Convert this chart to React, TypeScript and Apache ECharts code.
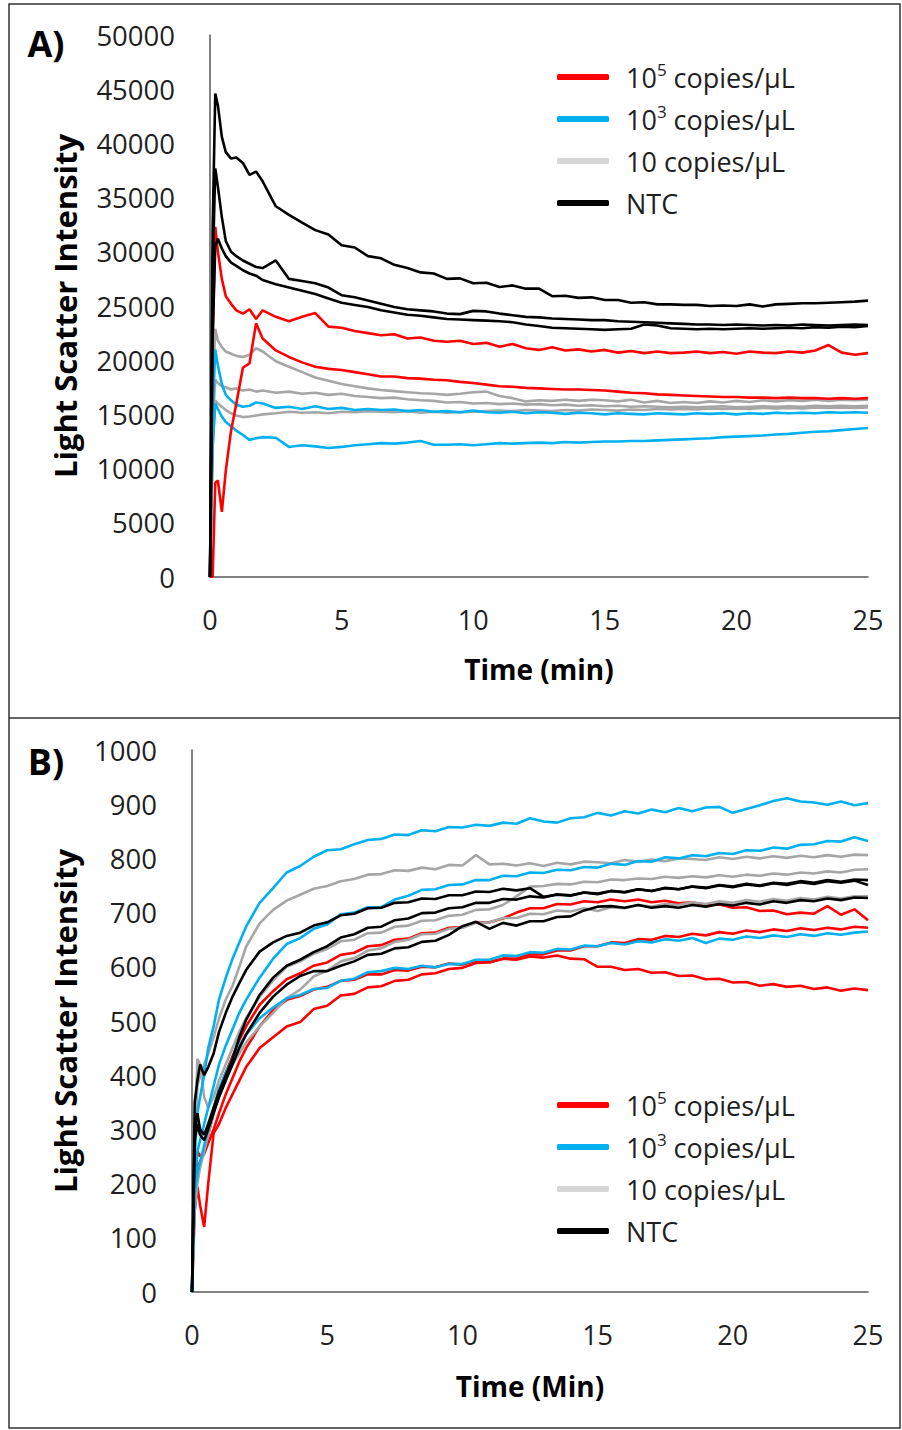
import React, { useEffect, useRef } from "react";
import * as echarts from "echarts";

// ---------- shared time grid (min) ----------
const TIME = [
  0, 0.1, 0.2, 0.3, 0.45, 0.6, 0.8, 1.0, 1.25, 1.5,
  1.75, 2.0, 2.5, 3.0, 3.5, 4.0, 4.5, 5.0, 5.5, 6.0,
  6.5, 7.0, 7.5, 8.0, 8.5, 9.0, 9.5, 10.0, 10.5, 11.0,
  11.5, 12.0, 12.5, 13.0, 13.5, 14.0, 14.5, 15.0, 15.5, 16.0,
  16.5, 17.0, 17.5, 18.0, 18.5, 19.0, 19.5, 20.0, 20.5, 21.0,
  21.5, 22.0, 22.5, 23.0, 23.5, 24.0, 24.5, 25.0,
];

const X_TICKS = [0, 5, 10, 15, 20, 25];
const Y_TICKS_A = [0, 5000, 10000, 15000, 20000, 25000, 30000, 35000, 40000, 45000, 50000];
const Y_TICKS_B = [0, 100, 200, 300, 400, 500, 600, 700, 800, 900, 1000];

const GROUPS = ["10^5 copies/µL", "10^3 copies/µL", "10 copies/µL", "NTC"];

// ---------- Panel A ----------
const A_NTC_1 = [
  0, 32000, 44600, 43500, 40600, 39200, 38600, 38700, 38200, 37100,
  37400, 36500, 34200, 33400, 32700, 32000, 31600, 30600, 30400, 29600,
  29400, 28800, 28500, 28100, 28000, 27500, 27550, 27100, 27150, 26750,
  26900, 26600, 26600, 25900, 25950, 25750, 25800, 25550, 25550, 25300,
  25350, 25150, 25150, 25100, 25100, 25000, 25050, 25000, 25150, 24950,
  25150, 25200, 25250, 25250, 25300, 25350, 25400, 25500,
];
const A_NTC_2 = [
  0, 28000, 37700, 36000, 33200, 31000, 30000, 29600, 29200, 28900,
  28600, 28500, 29200, 27500, 27300, 27100, 26700, 26000, 25800, 25500,
  25200, 24900, 24700, 24600, 24500, 24300, 24250, 24550, 24500, 24300,
  24150, 24000, 23950, 23850, 23800, 23750, 23700, 23700, 23600, 23550,
  23500, 23450, 23400, 23350, 23300, 23300, 23250, 23300, 23250, 23200,
  23250, 23200, 23300, 23250, 23200, 23250, 23300, 23250,
];
const A_NTC_3 = [
  0, 22000, 30500, 31200, 30300, 29600, 29000, 28700, 28300, 28000,
  27800, 27400, 27000, 26700, 26400, 26100, 25700, 25300, 25100, 24900,
  24600, 24400, 24200, 24100, 23950, 23800, 23750, 23700, 23650, 23600,
  23500, 23300, 23150, 23000, 22950, 22900, 22850, 22800, 22850, 22900,
  23300, 23200, 22950, 22900, 22850, 22900, 22850, 22900, 22950, 22900,
  22950, 23000, 22950, 23050, 23000, 23100, 23050, 23150,
];
const A_R5_1 = [
  0, 22000, 32300, 30000, 27500, 25900, 25200, 24600, 24300, 24700,
  23800, 24600, 24000, 23600, 24000, 24350, 23100, 23000, 22700, 22500,
  22300, 22400, 22000, 22100, 21800, 21700, 21800, 21500, 21600, 21250,
  21500, 21100, 20950, 21200, 20900, 21000, 20800, 20950, 20700, 20850,
  20650, 20800, 20650, 20700, 20800, 20650, 20750, 20600, 20800, 20700,
  20650, 20800, 20700, 20900, 21400, 20700, 20500, 20650,
];
const A_R5_2 = [
  0, 0, 8700, 8900, 6000, 9800, 13500, 16000, 19300, 19700,
  23400, 22000, 20900, 20300, 19800, 19400, 19200, 19100, 18900, 18700,
  18500, 18500, 18350, 18300, 18200, 18150, 18000, 17900, 17750, 17600,
  17550, 17450, 17400, 17350, 17300, 17300, 17250, 17200, 17100, 17000,
  16950, 16850, 16800, 16750, 16700, 16650, 16600, 16600, 16550, 16550,
  16500, 16550, 16500, 16500, 16450, 16500, 16450, 16500,
];
const A_R3_1 = [
  0, 15000, 21000, 19500, 17800, 16800, 16300, 15900, 15700, 15800,
  16100, 16000, 15600, 15700, 15500, 15750, 15500, 15600, 15400, 15500,
  15400, 15450, 15300, 15400, 15250, 15300, 15200, 15350, 15200, 15150,
  15250, 15100, 15200, 15150, 15050, 15150, 15100, 15000, 15100, 15050,
  15000, 15100, 15050, 15000, 15100, 15050, 15100, 15000, 15100, 15050,
  15150, 15100, 15150, 15100, 15200, 15150, 15200, 15150,
];
const A_R3_2 = [
  0, 12000, 16000, 15500, 14800, 14300, 13900, 13500, 13100, 12650,
  12800, 12900, 12850, 12000, 12150, 12050, 11900, 12000, 12150, 12250,
  12350, 12300, 12400, 12550, 12200, 12200, 12250, 12150, 12250, 12350,
  12300, 12350, 12400, 12350, 12450, 12400, 12450, 12500, 12500, 12550,
  12550, 12600, 12650, 12700, 12750, 12800, 12900, 12950, 13000, 13050,
  13150, 13200, 13300, 13400, 13450, 13550, 13650, 13750,
];
const A_R1_1 = [
  0, 17000, 22900, 21800, 21200, 20800, 20600, 20400, 20300, 20500,
  21100, 20800, 19900, 19400, 18900, 18400, 18100, 17800, 17600, 17400,
  17250, 17150, 17050, 16950, 16900, 16800, 16900, 17050, 17100, 16700,
  16500, 16200, 16300, 16250, 16350, 16250, 16350, 16300, 16200, 16350,
  16100, 16250, 16050, 16150, 16050, 16200, 16100, 16250, 16150, 16300,
  16200, 16300, 16250, 16350, 16250, 16350, 16300, 16350,
];
const A_R1_2 = [
  0, 14000, 18200, 17900, 17600, 17500, 17300, 17400, 17200, 17300,
  17100, 17200, 17000, 17100, 16900, 17000, 16800, 16900, 16700, 16600,
  16500, 16550, 16400, 16300, 16250, 16100, 16150, 16000, 16050, 15950,
  16000, 15900, 15950, 15850, 15900, 15800, 15850, 15750, 15800, 15700,
  15750, 15700, 15650, 15700, 15650, 15700, 15750, 15650, 15700, 15750,
  15700, 15750, 15700, 15800, 15750, 15800, 15750, 15800,
];
const A_R1_3 = [
  0, 12000, 16300, 16000, 15700, 15400, 15100, 14900, 14750, 14800,
  14900, 15000, 15100, 15250, 15150, 15200, 15100, 15250, 15200, 15300,
  15250, 15200, 15300, 15150, 15250, 15150, 15200, 15250, 15300, 15350,
  15300, 15400, 15350, 15300, 15400, 15350, 15450, 15400, 15350, 15450,
  15400, 15500, 15450, 15500, 15450, 15550, 15500, 15550, 15500, 15600,
  15550, 15600, 15550, 15650, 15600, 15650, 15600, 15650,
];

// ---------- Panel B ----------
const B_R3_1 = [
  0, 250, 330, 360, 400, 450, 490, 540, 580, 615,
  645, 674, 718, 745, 774, 786, 803, 815, 817, 826,
  834, 836, 844, 843, 852, 850, 858, 857, 862, 860,
  866, 864, 874, 868, 866, 874, 876, 884, 879, 887,
  883, 890, 885, 893, 887, 894, 895, 884, 891, 898,
  906, 911, 905, 903, 899, 905, 898, 902,
];
const B_R1_1 = [
  0, 280, 380, 400, 420, 440, 470, 505, 540, 565,
  600, 637, 680, 705, 722, 733, 744, 749, 758, 762,
  770, 771, 778, 777, 783, 780, 788, 787, 806, 789,
  790, 787, 791, 786, 792, 789, 794, 793, 791, 797,
  794, 798, 795, 800, 799, 797, 802, 799, 803, 800,
  804, 801, 805, 802, 806, 803, 807, 806,
];
const B_R3_2 = [
  0, 200, 260, 280, 310, 340, 380, 420, 455, 485,
  515, 539, 580, 615, 642, 653, 670, 678, 697, 700,
  710, 710, 724, 731, 742, 743, 751, 752, 760, 760,
  768, 767, 774, 773, 779, 778, 784, 783, 790, 788,
  795, 794, 802, 800, 806, 804, 810, 808, 815, 814,
  820, 818, 825, 826, 832, 831, 839, 832,
];
const B_R3_3 = [
  0, 180, 220, 240, 270, 300, 340, 375, 405, 430,
  455, 475, 505, 525, 542, 548, 559, 561, 574, 578,
  590, 592, 598, 596, 602, 599, 605, 605, 613, 613,
  621, 620, 627, 626, 633, 632, 639, 638, 644, 641,
  647, 645, 651, 648, 653, 644, 652, 650, 656, 653,
  658, 655, 660, 657, 662, 659, 663, 665,
];
const B_R1_2 = [
  0, 300, 430, 420, 360, 340, 360, 390, 420, 450,
  480, 505, 545, 575, 600, 610, 624, 633, 647, 650,
  662, 663, 674, 676, 685, 686, 694, 696, 705, 706,
  714, 730, 748, 749, 753, 752, 757, 756, 761, 760,
  763, 762, 766, 764, 767, 765, 769, 766, 770, 768,
  772, 770, 774, 772, 776, 774, 779, 780,
];
const B_R1_3 = [
  0, 150, 200, 230, 260, 290, 330, 360, 395, 420,
  440, 460, 490, 515, 542, 558, 582, 593, 610, 616,
  630, 634, 646, 650, 660, 661, 670, 672, 681, 682,
  690, 690, 698, 697, 704, 702, 708, 703, 710, 708,
  714, 711, 716, 714, 719, 716, 721, 718, 723, 720,
  725, 722, 727, 724, 729, 726, 730, 730,
];
const B_NTC_1 = [
  0, 350, 390, 420, 400, 415, 440, 480, 515, 545,
  570, 594, 628, 645, 657, 663, 676, 682, 695, 698,
  708, 709, 718, 719, 726, 725, 732, 732, 739, 738,
  744, 741, 745, 729, 733, 731, 737, 735, 740, 738,
  743, 740, 746, 743, 748, 745, 750, 747, 752, 749,
  754, 751, 756, 753, 758, 755, 759, 751,
];
const B_NTC_2 = [
  0, 300, 330, 300, 290, 310, 340, 370, 400, 430,
  470, 502, 548, 580, 602, 613, 627, 638, 654, 660,
  672, 674, 686, 689, 699, 700, 708, 710, 718, 718,
  725, 724, 730, 728, 734, 732, 737, 734, 740, 737,
  743, 740, 745, 743, 748, 746, 751, 748, 753, 750,
  755, 753, 758, 755, 760, 757, 761, 760,
];
const B_NTC_3 = [
  0, 280, 310, 290, 280, 300, 330, 360, 390, 420,
  450, 475, 515, 545, 567, 583, 592, 592, 602, 610,
  622, 624, 634, 636, 646, 648, 659, 675, 683, 670,
  681, 676, 684, 684, 692, 693, 704, 711, 712, 709,
  714, 709, 712, 709, 714, 711, 716, 713, 718, 715,
  721, 718, 723, 721, 726, 723, 728, 727,
];
const B_R5_1 = [
  0, 200, 260, 250, 260, 290, 330, 370, 405, 435,
  465, 490, 530, 555, 577, 588, 602, 608, 622, 626,
  638, 640, 650, 652, 662, 663, 672, 673, 682, 682,
  689, 700, 708, 708, 716, 715, 721, 719, 724, 721,
  724, 719, 722, 717, 719, 713, 715, 709, 710, 703,
  704, 697, 700, 698, 712, 696, 706, 686,
];
const B_R5_2 = [
  0, 180, 230, 240, 255, 275, 300, 330, 365, 395,
  425, 450, 490, 520, 539, 546, 558, 563, 574, 576,
  586, 586, 594, 593, 600, 599, 606, 604, 611, 609,
  615, 615, 623, 623, 630, 630, 638, 638, 645, 644,
  651, 650, 657, 655, 661, 658, 664, 661, 667, 664,
  669, 666, 671, 668, 672, 669, 674, 672,
];
const B_R5_3 = [
  0, 150, 194, 160, 120, 200, 293, 310, 340, 365,
  390, 415, 450, 470, 490, 498, 522, 528, 547, 550,
  562, 564, 574, 576, 586, 588, 596, 598, 607, 608,
  615, 613, 619, 617, 621, 615, 614, 600, 600, 594,
  596, 589, 590, 583, 584, 577, 578, 571, 572, 565,
  568, 563, 565, 559, 562, 556, 560, 557,
];

const COLORS = {
  r5: "#ff0000",
  r3: "#00b0f0",
  r1: "#a6a6a6",
  ntc: "#000000",
};
const LEGEND_COLORS = ["#ff0000", "#00b0f0", "#d6d6d6", "#000000"];

const FONT = '"Open Sans", Lato, sans-serif';
const TXT = "#1f1f1f";

function mk(name: string, color: string, vals: number[], idx: number) {
  return {
    type: "line",
    name,
    xAxisIndex: idx,
    yAxisIndex: idx,
    data: TIME.map((t, i) => [t, vals[i]]),
    showSymbol: false,
    symbol: "none",
    lineStyle: { color, width: 2.6 },
    itemStyle: { color },
    emphasis: { disabled: true },
    silent: true,
  };
}

function legendFmt(name: string) {
  if (name === GROUPS[0]) return "10{sup|5} copies/µL";
  if (name === GROUPS[1]) return "10{sup|3} copies/µL";
  return name;
}

function makeLegend(top: number) {
  return {
    orient: "vertical",
    left: 552,
    top,
    itemWidth: 52,
    itemHeight: 6,
    itemGap: 10,
    icon: "roundRect",
    selectedMode: false,
    data: GROUPS.map((g, i) => ({ name: g, itemStyle: { color: LEGEND_COLORS[i] } })),
    formatter: legendFmt,
    textStyle: {
      fontFamily: FONT,
      fontSize: 27,
      color: TXT,
      lineHeight: 32,
      padding: [0, 0, 0, 12],
      rich: {
        sup: { fontFamily: FONT, fontSize: 17, color: TXT, lineHeight: 32, verticalAlign: "top", padding: [0, 0, 10, 0] },
      },
    },
  };
}

function xAxis(idx: number) {
  return {
    type: "value",
    gridIndex: idx,
    min: X_TICKS[0],
    max: X_TICKS[X_TICKS.length - 1],
    interval: 5,
    axisLine: { show: true, lineStyle: { color: "#595959", width: 1.5 } },
    axisTick: { show: false },
    splitLine: { show: false },
    axisLabel: { fontFamily: FONT, fontSize: 27, color: TXT, margin: 29 },
  };
}

function yAxis(idx: number, ticks: number[]) {
  return {
    type: "value",
    gridIndex: idx,
    min: ticks[0],
    max: ticks[ticks.length - 1],
    interval: ticks[1] - ticks[0],
    axisLine: { show: true, lineStyle: { color: "#595959", width: 1.5 } },
    axisTick: { show: false },
    splitLine: { show: false },
    axisLabel: { fontFamily: FONT, fontSize: 27.5, color: TXT, margin: 35, formatter: (v: number) => String(v) },
  };
}

export default function App() {
  const ref = useRef<HTMLDivElement>(null);
  useEffect(() => {
    document.body.style.margin = "0";
    if (!ref.current) return;
    const chart = echarts.init(ref.current, null, { renderer: "svg" });
    const series = [
      mk(GROUPS[2], COLORS.r1, A_R1_1, 0),
      mk(GROUPS[2], COLORS.r1, A_R1_2, 0),
      mk(GROUPS[2], COLORS.r1, A_R1_3, 0),
      mk(GROUPS[1], COLORS.r3, A_R3_1, 0),
      mk(GROUPS[1], COLORS.r3, A_R3_2, 0),
      mk(GROUPS[0], COLORS.r5, A_R5_1, 0),
      mk(GROUPS[0], COLORS.r5, A_R5_2, 0),
      mk(GROUPS[3], COLORS.ntc, A_NTC_1, 0),
      mk(GROUPS[3], COLORS.ntc, A_NTC_2, 0),
      mk(GROUPS[3], COLORS.ntc, A_NTC_3, 0),

      mk(GROUPS[0], COLORS.r5, B_R5_1, 1),
      mk(GROUPS[0], COLORS.r5, B_R5_2, 1),
      mk(GROUPS[0], COLORS.r5, B_R5_3, 1),
      mk(GROUPS[2], COLORS.r1, B_R1_1, 1),
      mk(GROUPS[2], COLORS.r1, B_R1_2, 1),
      mk(GROUPS[2], COLORS.r1, B_R1_3, 1),
      mk(GROUPS[1], COLORS.r3, B_R3_1, 1),
      mk(GROUPS[1], COLORS.r3, B_R3_2, 1),
      mk(GROUPS[1], COLORS.r3, B_R3_3, 1),
      mk(GROUPS[3], COLORS.ntc, B_NTC_1, 1),
      mk(GROUPS[3], COLORS.ntc, B_NTC_2, 1),
      mk(GROUPS[3], COLORS.ntc, B_NTC_3, 1),
    ];
    chart.setOption({
      animation: false,
      backgroundColor: "#ffffff",
      grid: [
        { left: 210, top: 35, right: 34, height: 542, containLabel: false },
        { left: 192, top: 750, right: 34, height: 542, containLabel: false },
      ],
      xAxis: [xAxis(0), xAxis(1)],
      yAxis: [yAxis(0, Y_TICKS_A), yAxis(1, Y_TICKS_B)],
      legend: [makeLegend(56), makeLegend(1084)],
      series,
      graphic: [
        { type: "rect", shape: { x: 9, y: 4, width: 891, height: 1424 }, style: { fill: "none", stroke: "#333333", lineWidth: 1.5 }, silent: true },
        { type: "line", shape: { x1: 9, y1: 718, x2: 900, y2: 718 }, style: { stroke: "#333333", lineWidth: 1.5 }, silent: true },
        { type: "text", x: 46, y: 43, style: { text: "A)", font: `bold 36px ${FONT}`, fill: "#000", textAlign: "center", textVerticalAlign: "middle" } },
        { type: "text", x: 46, y: 761, style: { text: "B)", font: `bold 36px ${FONT}`, fill: "#000", textAlign: "center", textVerticalAlign: "middle" } },
        { type: "text", x: 65, y: 306, rotation: Math.PI / 2, style: { text: "Light Scatter Intensity", font: `bold 31px ${FONT}`, fill: "#000", textAlign: "center", textVerticalAlign: "middle" } },
        { type: "text", x: 65, y: 1021, rotation: Math.PI / 2, style: { text: "Light Scatter Intensity", font: `bold 31px ${FONT}`, fill: "#000", textAlign: "center", textVerticalAlign: "middle" } },
        { type: "text", x: 539, y: 669, style: { text: "Time (min)", font: `bold 28px ${FONT}`, fill: "#000", textAlign: "center", textVerticalAlign: "middle" } },
        { type: "text", x: 530, y: 1386, style: { text: "Time (Min)", font: `bold 28px ${FONT}`, fill: "#000", textAlign: "center", textVerticalAlign: "middle" } },
      ],
    });
    return () => chart.dispose();
  }, []);
  return <div ref={ref} style={{ width: 902, height: 1430 }} />;
}
